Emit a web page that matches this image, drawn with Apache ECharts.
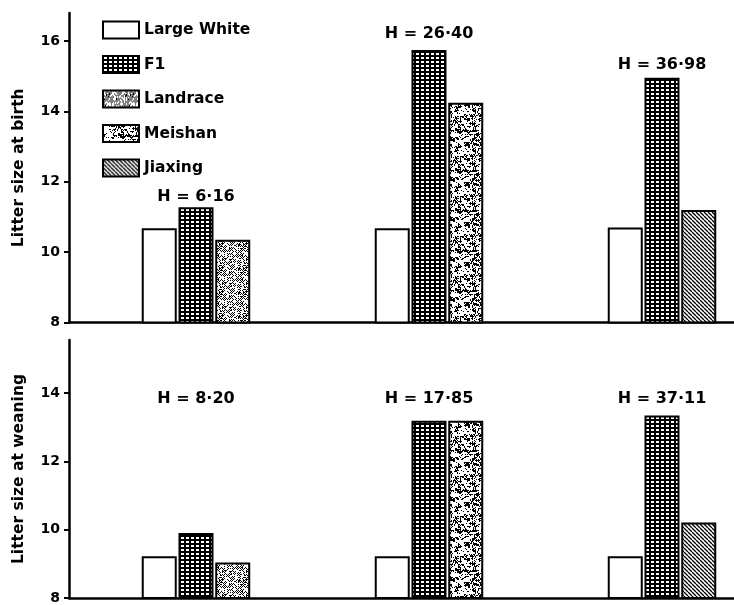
<!DOCTYPE html>
<html>
<head>
<meta charset="utf-8">
<script src="https://cdn.jsdelivr.net/npm/echarts@6/dist/echarts.min.js"></script>
<style>
  html, body { margin: 0; padding: 0; background: #fff; }
  #chart { width: 734px; height: 605px; }
</style>
</head>
<body>
<div id="chart"></div>
<script>
// Groups: Landrace, Meishan, Jiaxing comparisons (Large White vs F1 vs local breed)
const groupX = [1, 2, 3];
const breeds = ['Large White', 'F1', 'Landrace', 'Meishan', 'Jiaxing'];

// Litter size at birth
const birthLargeWhite = [10.68, 10.68, 10.70];
const birthF1 = [11.28, 15.75, 14.96];
const birthThird = [10.35, 14.25, 11.20];   // Landrace, Meishan, Jiaxing

// Litter size at weaning
const weanLargeWhite = [9.22, 9.22, 9.22];
const weanF1 = [9.90, 13.19, 13.34];
const weanThird = [9.04, 13.19, 10.21];

// Kruskal-Wallis H statistics
const hBirth = ['H = 6·16', 'H = 26·40', 'H = 36·98'];
const hWean = ['H = 8·20', 'H = 17·85', 'H = 37·11'];

// Tick labels
const birthTicks = [8, 10, 12, 14, 16];
const weanTicks = [8, 10, 12, 14];

// Vertical placement of the H annotations (in axis units)
const hBirthLevel = [11.57, 16.21, 15.33];
const hWeanLevel = [13.82, 13.82, 13.82];

const FONT = "'DejaVu Sans', Verdana, sans-serif";

// ---- fill textures -------------------------------------------------------
function hash(i, j) {
  const s = Math.sin(i * 12.9898 + j * 78.233) * 43758.5453;
  return s - Math.floor(s);
}
function tile(w, h, draw) {
  const c = document.createElement('canvas');
  c.width = w; c.height = h;
  const g = c.getContext('2d');
  g.fillStyle = '#fff';
  g.fillRect(0, 0, w, h);
  draw(g, w, h);
  return { image: c, repeat: 'repeat' };
}
// F1: black grid with small white cells
const gridFill = tile(5, 4, (g) => {
  g.fillStyle = '#000'; g.fillRect(0, 0, 5, 4);
  g.fillStyle = '#fff'; g.fillRect(1, 1, 3, 2);
});
// Landrace: fine grey dot screen
const stippleFill = tile(24, 24, (g, w, h) => {
  g.fillStyle = '#000';
  for (let i = 0; i < w; i++) for (let j = 0; j < h; j++) {
    const onScreen = (i + j) % 2 === 0;
    const r = hash(i + 7, j + 31);
    if ((onScreen && r < 0.7) || (!onScreen && r < 0.08)) g.fillRect(i, j, 1, 1);
  }
});
// Meishan: coarse irregular speckle on white
const speckleFill = tile(40, 40, (g, w, h) => {
  g.fillStyle = '#000';
  for (let i = 0; i < w; i++) for (let j = 0; j < h; j++) {
    const v = 0.5 * hash(i + 300, j + 17) + 0.5 * hash(Math.floor(i / 3) + 91, Math.floor(j / 2) + 5);
    if (v < 0.41) g.fillRect(i, j, 1, 1);
  }
});
// Jiaxing: diagonal hatching
const hatchFill = tile(4, 4, (g) => {
  g.strokeStyle = '#000'; g.lineWidth = 1.3;
  g.beginPath();
  for (let k = -8; k <= 8; k += 4) { g.moveTo(k, 0); g.lineTo(k + 4, 4); }
  g.stroke();
});

const breedFill = {
  'Large White': '#ffffff',
  'F1': gridFill,
  'Landrace': stippleFill,
  'Meishan': speckleFill,
  'Jiaxing': hatchFill
};

// ---- series builders -------------------------------------------------------
function barSeries(name, idx, data, stack) {
  return {
    type: 'bar', name, xAxisIndex: idx, yAxisIndex: idx,
    stack, barWidth: 35, barGap: '5%',
    itemStyle: { color: breedFill[name], borderColor: '#000', borderWidth: 2 },
    data
  };
}
function panelSeries(idx, lw, f1, third, hText, hLevel) {
  const list = [
    barSeries('Large White', idx, groupX.map((x, k) => [x, lw[k]]), 'lw' + idx),
    barSeries('F1', idx, groupX.map((x, k) => [x, f1[k]]), 'f1' + idx)
  ];
  // each local breed occupies the third slot of its own group
  breeds.slice(2).forEach((b, bi) => {
    list.push(barSeries(b, idx,
      groupX.map((x, k) => [x, k === bi ? third[k] : '-']), 'local' + idx));
  });
  // H statistic annotation above each group
  list.push({
    type: 'scatter', xAxisIndex: idx, yAxisIndex: idx, silent: true,
    symbolSize: 1, itemStyle: { color: '#fff', opacity: 1 },
    label: { show: true, position: 'inside', formatter: '{b}', color: '#000',
             textBorderWidth: 0, fontSize: 16, fontWeight: 'bold', fontFamily: FONT },
    data: groupX.map((x, k) => ({ name: hText[k], value: [x, hLevel[k]] }))
  });
  return list;
}

function yAxisCfg(idx, max, ticks, name) {
  return {
    gridIndex: idx, type: 'value', min: 8, max, interval: 2,
    axisLine: { show: true, onZero: false, lineStyle: { color: '#000', width: 2.5 } },
    axisTick: { show: true, length: 5, customValues: ticks, lineStyle: { color: '#000', width: 2 } },
    axisLabel: { customValues: ticks, color: '#000', fontSize: 14, fontWeight: 'bold',
                 fontFamily: FONT, margin: 9 },
    splitLine: { show: false },
    name, nameLocation: 'middle', nameGap: 42,
    nameTextStyle: { color: '#000', fontSize: 15.5, fontWeight: 'bold', fontFamily: FONT }
  };
}
function xAxisCfg(idx) {
  return {
    gridIndex: idx, type: 'value', min: 0.455, max: 3.309,
    axisLine: { show: true, onZero: false, lineStyle: { color: '#000', width: 2.5 } },
    axisTick: { show: false }, axisLabel: { show: false }, splitLine: { show: false }
  };
}

const chart = echarts.init(document.getElementById('chart'), null, { renderer: 'canvas' });
chart.setOption({
  animation: false,
  backgroundColor: '#fff',
  textStyle: { fontFamily: FONT },
  grid: [
    { left: 69, right: 0, top: 13, height: 309.5 },
    { left: 69, right: 0, top: 340, height: 261.7 }
  ],
  xAxis: [xAxisCfg(0), xAxisCfg(1)],
  yAxis: [
    yAxisCfg(0, 16.8, birthTicks, 'Litter size at birth'),
    yAxisCfg(1, 15.55, weanTicks, 'Litter size at weaning')
  ],
  legend: {
    data: breeds, orient: 'vertical', left: 102, top: 20.5, padding: 0,
    icon: 'rect', itemWidth: 36, itemHeight: 17, itemGap: 15.5, selectedMode: false,
    textStyle: { color: '#000', fontSize: 15.5, fontWeight: 'bold', fontFamily: FONT, lineHeight: 19 }
  },
  series: [
    ...panelSeries(0, birthLargeWhite, birthF1, birthThird, hBirth, hBirthLevel),
    ...panelSeries(1, weanLargeWhite, weanF1, weanThird, hWean, hWeanLevel)
  ]
});
</script>
</body>
</html>
